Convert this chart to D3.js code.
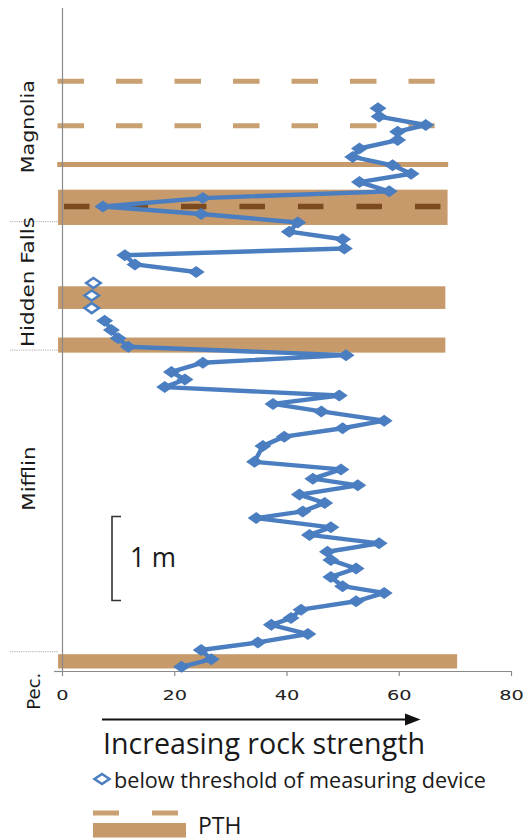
<!DOCTYPE html>
<html>
<head>
<meta charset="utf-8">
<script src="https://cdn.jsdelivr.net/npm/d3@7"></script>
<style>
  html, body { margin: 0; padding: 0; background: #fff; }
  svg { display: block; }
</style>
</head>
<body>
<script>
// Rock-strength log: height above base of section (m) and strength reading.
// Upper run (Magnolia into Hidden Falls), listed top to bottom.
const upperHeight = [6.70, 6.60, 6.50, 6.42, 6.32, 6.22, 6.12, 6.02, 5.92, 5.82, 5.71,
  5.63, 5.53, 5.44, 5.34, 5.23, 5.14, 5.03, 4.95, 4.84, 4.75];
const upperStrength = [56.3, 56.5, 64.8, 59.8, 59.8, 53.0, 51.8, 58.9, 62.2, 53.0, 58.3,
  25.1, 7.3, 24.8, 42.0, 40.5, 50.0, 50.3, 11.2, 13.0, 23.9];

// Readings below the threshold of the measuring device.
const lowHeight = [4.62, 4.47, 4.32];
const lowStrength = [5.6, 5.3, 5.3];

// Lower run (Hidden Falls base through Mifflin to Pec.), top to bottom.
const lowerHeight = [4.17, 4.06, 3.96, 3.86, 3.76, 3.67, 3.56, 3.47, 3.38, 3.28, 3.18,
  3.09, 2.98, 2.89, 2.79, 2.68, 2.49, 2.40, 2.29, 2.21, 2.10, 2.00, 1.90, 1.82, 1.71,
  1.62, 1.52, 1.42, 1.32, 1.22, 1.12, 1.01, 0.93, 0.83, 0.73, 0.63, 0.55, 0.44, 0.34,
  0.25, 0.14, 0.05];
const lowerStrength = [7.6, 8.8, 10.0, 11.8, 50.6, 25.1, 19.5, 21.9, 18.3, 49.4, 37.6,
  46.2, 57.4, 50.0, 39.6, 35.8, 34.3, 49.7, 44.7, 52.7, 42.3, 46.8, 42.9, 34.6, 47.9,
  44.1, 56.5, 47.3, 47.9, 52.4, 47.9, 50.0, 57.4, 52.4, 42.6, 40.8, 37.3, 43.8, 34.9,
  24.8, 26.6, 21.3];

// PTH horizons drawn as solid bars (bottom/top height, right end on strength axis).
const barBottom = [5.31, 4.31, 3.79, 0.03];
const barTop = [5.73, 4.58, 3.97, 0.20];
const barEnd = [68.7, 68.3, 68.3, 70.4];

// PTH horizons drawn as thin lines: dashed light, dashed dark (inside a bar), solid.
const lightDashHeight = [7.02, 6.49];
const darkDashHeight = [5.53];
const thinLineHeight = [6.03];

// Stratigraphic units and their boundaries.
const unitNames = ["Magnolia", "Hidden Falls", "Mifflin", "Pec."];
const unitCenter = [6.48, 4.63, 2.29, -0.24];
const unitBoundary = [5.35, 3.82, 0.23];

// Strength axis ticks.
const xTicks = [0, 20, 40, 60, 80];

const W = 529, H = 840;
const blue = "#4a7ec0";
const tan = "#c69a6a";
const darkTan = "#7b4a1f";

const svg = d3.select("body").append("svg")
  .attr("width", W).attr("height", H)
  .attr("viewBox", `0 0 ${W} ${H}`)
  .style("font-family", "'DejaVu Sans', sans-serif");

svg.append("rect").attr("width", W).attr("height", H).attr("fill", "#fff");

const x = d3.scaleLinear().domain([0, 80]).range([62, 511]);
const y = d3.scaleLinear().domain([0, 7.9]).range([671, 671 - 7.9 * 84]);

// --- PTH bars and lines ---
const bands = svg.append("g");
bands.selectAll("rect.bar")
  .data(barBottom.map((b, i) => ({ b, t: barTop[i], e: barEnd[i] })))
  .join("rect")
  .attr("class", "bar")
  .attr("x", x(-0.7))
  .attr("y", d => y(d.t))
  .attr("width", d => x(d.e) - x(-0.7))
  .attr("height", d => y(d.b) - y(d.t))
  .attr("fill", tan);

bands.selectAll("line.thin")
  .data(thinLineHeight)
  .join("line")
  .attr("class", "thin")
  .attr("x1", x(-0.85)).attr("x2", x(68.8))
  .attr("y1", d => y(d)).attr("y2", d => y(d))
  .attr("stroke", tan).attr("stroke-width", 5);

bands.selectAll("line.lightdash")
  .data(lightDashHeight)
  .join("line")
  .attr("class", "lightdash")
  .attr("x1", x(-0.8)).attr("x2", x(66.4))
  .attr("y1", d => y(d)).attr("y2", d => y(d))
  .attr("stroke", "#c9a072").attr("stroke-width", 5)
  .attr("stroke-dasharray", "26.5,32");

bands.selectAll("line.darkdash")
  .data(darkDashHeight)
  .join("line")
  .attr("class", "darkdash")
  .attr("x1", x(0.35)).attr("x2", x(67.5))
  .attr("y1", d => y(d)).attr("y2", d => y(d))
  .attr("stroke", darkTan).attr("stroke-width", 5.5)
  .attr("stroke-dasharray", "25.5,33");

// --- Axes ---
const xAxis = d3.axisBottom(x).tickValues(xTicks).tickSize(5).tickSizeOuter(0).tickPadding(14);
const gx = svg.append("g").attr("transform", `translate(0,${y(0)})`).call(xAxis);
gx.select(".domain").attr("stroke", "#8a8a8a").attr("stroke-width", 1.2);
gx.selectAll(".tick line").attr("stroke", "#8a8a8a").attr("stroke-width", 1.2);
gx.selectAll(".tick text")
  .attr("font-size", 14)
  .attr("font-family", "'DejaVu Sans', sans-serif")
  .attr("fill", "#222")
  .attr("transform", "scale(1.38,1)");

const yAxis = d3.axisLeft(y).tickValues([0]).tickSize(8).tickSizeOuter(0).tickFormat("");
const gy = svg.append("g").attr("transform", `translate(${x(0)},0)`).call(yAxis);
gy.select(".domain").attr("stroke", "#8a8a8a").attr("stroke-width", 1.2);
gy.selectAll(".tick line").attr("stroke", "#8a8a8a").attr("stroke-width", 1.2);

// --- Unit boundaries and names ---
svg.append("g").selectAll("line")
  .data(unitBoundary)
  .join("line")
  .attr("x1", 10).attr("x2", 58)
  .attr("y1", d => y(d)).attr("y2", d => y(d))
  .attr("stroke", "#9a9a9a").attr("stroke-width", 0.8)
  .attr("stroke-dasharray", "1.2,1");

const unitLen = [93, 130, 64, 37];
const unitBase = [34, 34, 34.5, 39.5];
svg.append("g").selectAll("text")
  .data(unitNames)
  .join("text")
  .attr("transform", (d, i) => `translate(${unitBase[i]},${y(unitCenter[i])}) rotate(-90)`)
  .attr("text-anchor", "middle")
  .attr("font-size", 17)
  .attr("fill", "#1a1a1a")
  .attr("textLength", (d, i) => unitLen[i])
  .attr("lengthAdjust", "spacingAndGlyphs")
  .text(d => d);

// --- Strength series ---
const line = d3.line().x(d => x(d.s)).y(d => y(d.h));
const upper = upperHeight.map((h, i) => ({ h, s: upperStrength[i] }));
const lower = lowerHeight.map((h, i) => ({ h, s: lowerStrength[i] }));
const low = lowHeight.map((h, i) => ({ h, s: lowStrength[i] }));

const diamond = (w, h) => `M0,${-h / 2}L${w / 2},0L0,${h / 2}L${-w / 2},0Z`;

[upper, lower].forEach(run => {
  svg.append("path").datum(run)
    .attr("d", line)
    .attr("fill", "none")
    .attr("stroke", blue)
    .attr("stroke-width", 4.4)
    .attr("stroke-linejoin", "round");
  svg.append("g").selectAll("path")
    .data(run)
    .join("path")
    .attr("transform", d => `translate(${x(d.s)},${y(d.h)})`)
    .attr("d", diamond(17, 12))
    .attr("fill", blue);
});

svg.append("g").selectAll("path")
  .data(low)
  .join("path")
  .attr("transform", d => `translate(${x(d.s)},${y(d.h)})`)
  .attr("d", diamond(14.5, 10))
  .attr("fill", "#fff")
  .attr("stroke", blue)
  .attr("stroke-width", 2.5);

// --- 1 m scale bar ---
const sb = svg.append("g").attr("stroke", "#333").attr("stroke-width", 1.6).attr("fill", "none");
sb.append("path")
  .attr("d", `M121,${y(1.84)}H112V${y(0.84)}H121`);
svg.append("text")
  .attr("x", 130).attr("y", 567)
  .attr("font-family", "'Open Sans', sans-serif")
  .attr("font-size", 28)
  .attr("fill", "#1a1a1a")
  .attr("textLength", 46)
  .attr("lengthAdjust", "spacingAndGlyphs")
  .text("1 m");

// --- Direction arrow and caption ---
svg.append("line")
  .attr("x1", 102).attr("x2", 408)
  .attr("y1", 719.5).attr("y2", 719.5)
  .attr("stroke", "#111").attr("stroke-width", 2.2);
svg.append("path")
  .attr("d", "M420.5,719.5L405,713.5L405,725.5Z")
  .attr("fill", "#111");
svg.append("text")
  .attr("x", 103).attr("y", 753.5)
  .attr("font-family", "'Open Sans', sans-serif")
  .attr("font-size", 30)
  .attr("fill", "#1a1a1a")
  .attr("textLength", 322)
  .attr("lengthAdjust", "spacingAndGlyphs")
  .text("Increasing rock strength");

// --- Legend ---
svg.append("path")
  .attr("transform", "translate(102,779)")
  .attr("d", diamond(15, 10))
  .attr("fill", "#fff")
  .attr("stroke", blue)
  .attr("stroke-width", 2.5);
svg.append("text")
  .attr("x", 114).attr("y", 787.5)
  .attr("font-family", "'Open Sans', sans-serif")
  .attr("font-size", 22)
  .attr("fill", "#1a1a1a")
  .attr("textLength", 372)
  .attr("lengthAdjust", "spacingAndGlyphs")
  .text("below threshold of measuring device");

svg.append("line")
  .attr("x1", 93).attr("x2", 186)
  .attr("y1", 813).attr("y2", 813)
  .attr("stroke", "#c9a072").attr("stroke-width", 5)
  .attr("stroke-dasharray", "26,33");
svg.append("rect")
  .attr("x", 93).attr("y", 823)
  .attr("width", 93).attr("height", 14.5)
  .attr("fill", tan);
svg.append("text")
  .attr("x", 198).attr("y", 834)
  .attr("font-family", "'Open Sans', sans-serif")
  .attr("font-size", 23)
  .attr("fill", "#1a1a1a")
  .text("PTH");
</script>
</body>
</html>
